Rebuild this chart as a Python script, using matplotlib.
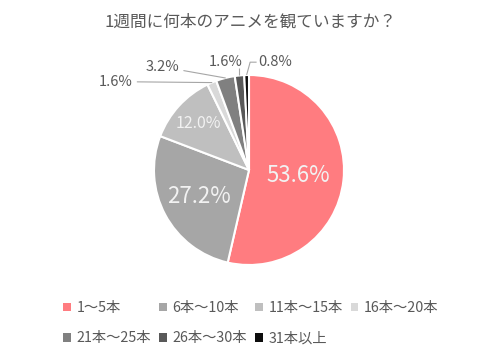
import numpy as np
import matplotlib.pyplot as plt
from matplotlib.patches import Patch

plt.rcParams['font.family'] = ['Noto Sans CJK JP', 'DejaVu Sans']

# data
categories = ['1～5本', '6本～10本', '11本～15本', '16本～20本',
              '21本～25本', '26本～30本', '31本以上']
shares = [53.6, 27.2, 12.0, 1.6, 3.2, 1.6, 0.8]
colors = ['#FF7C80', '#A6A6A6', '#BFBFBF', '#D9D9D9',
          '#808080', '#595959', '#0D0D0D']
title = '1週間に何本のアニメを観ていますか？'

fig = plt.figure(figsize=(5, 3.57), dpi=100)
ax = fig.add_axes([0, 0, 1, 1])

wedges, _ = ax.pie(shares, colors=colors, startangle=90, counterclock=False,
                   radius=1.0, center=(0, 0),
                   wedgeprops=dict(edgecolor='white', linewidth=1.5))
ax.set_xlim(-249 / 95, 251 / 95)
ax.set_ylim(-187 / 95, 170 / 95)
ax.axis('off')


def mid(i):
    w = wedges[i]
    return np.deg2rad((w.theta1 + w.theta2) / 2)


# labels inside the big slices (radius, font size)
inside = {0: (0.52, 16), 1: (0.60, 16), 2: (0.72, 11.5)}
for i, (r, fs) in inside.items():
    a = mid(i)
    ax.text(r * np.cos(a), r * np.sin(a), f'{shares[i]:.1f}%',
            ha='center', va='center', fontsize=fs, color='#F2F2F2')

lab = dict(fontsize=10.5, color='#595959', va='center')
line = dict(color='#A6A6A6', lw=0.8, solid_capstyle='butt')

# 16-20 and 21-25: straight leader lines
for i, (tx, ty) in {3: (-1.22, 0.93), 4: (-0.73, 1.085)}.items():
    a = mid(i)
    ax.annotate(f'{shares[i]:.1f}%', xy=(np.cos(a), np.sin(a)),
                xytext=(tx, ty), ha='right', **lab,
                arrowprops=dict(arrowstyle='-', color='#A6A6A6', lw=0.8,
                                shrinkA=1, shrinkB=0))

# 26-30: vertical leader line
a = mid(5)
x0, y0 = np.cos(a), np.sin(a)
ax.text(-0.07, 1.135, f'{shares[5]:.1f}%', ha='right', **lab)
ax.plot([x0, x0], [y0, 1.07], **line)

# 31+: elbow leader line
a = mid(6)
x0, y0 = np.cos(a), np.sin(a)
ax.text(0.095, 1.135, f'{shares[6]:.1f}%', ha='left', **lab)
ax.plot([x0, 0.012, 0.08], [y0, 1.135, 1.135], **line)

fig.text(0.5, 1 - 22 / 357, title, ha='center', va='center',
         fontsize=12, color='#595959')

handles = [Patch(facecolor=c, edgecolor='none') for c in colors]
order = [0, 4, 1, 5, 2, 6, 3]
fig.legend([handles[k] for k in order], [categories[k] for k in order],
           ncol=4, loc='upper left', bbox_to_anchor=(63 / 500, 1 - 301 / 357),
           frameon=False, fontsize=10.3, labelcolor='#595959',
           handlelength=0.55, handleheight=0.55, handletextpad=0.4,
           columnspacing=0.55, labelspacing=1.15, borderpad=0, borderaxespad=0)

fig.savefig('out.png', dpi=100)
